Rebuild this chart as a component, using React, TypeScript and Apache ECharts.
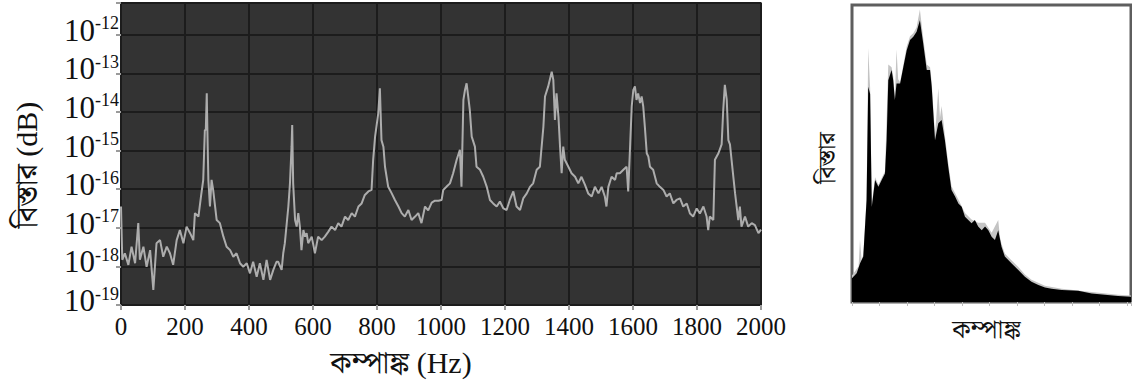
import React, { useEffect, useRef } from "react";
import * as echarts from "echarts";

// Left chart: x ticks (Hz) and y ticks (decimal exponents of amplitude)
const xTicks = [0, 200, 400, 600, 800, 1000, 1200, 1400, 1600, 1800, 2000];
const yExponents = [-19, -18, -17, -16, -15, -14, -13, -12];
const yTopExponent = -11.18;

// Spectrum: [frequency Hz, log10 amplitude]
const spectrum: [number, number][] = [
  [0, -16.45], [4, -17.83], [12, -17.66], [23, -17.96], [33, -17.49], [44, -17.92], [54, -16.88], [59, -17.83],
  [70, -17.49], [80, -18.01], [91, -17.58], [101, -18.61], [111, -17.4], [122, -17.32], [132, -17.75], [143, -17.49],
  [153, -17.66], [163, -17.96], [174, -17.32], [184, -17.06], [195, -17.4], [205, -16.97], [216, -17.14], [226, -17.32],
  [231, -16.62], [242, -16.71], [250, -16.19], [257, -15.76], [262, -14.47], [265, -14.47], [268, -13.52], [270, -14.5],
  [273, -15.76], [278, -16.45], [283, -15.76], [288, -16.02], [299, -16.8], [309, -16.88], [320, -17.23], [330, -17.49],
  [341, -17.58], [351, -17.75], [361, -17.66], [372, -17.92], [382, -18.01], [393, -17.92], [403, -18.18], [413, -17.88],
  [424, -18.27], [434, -17.92], [445, -18.35], [455, -17.83], [466, -18.35], [476, -18.09], [486, -17.88],
  [491, -17.88], [502, -18.09], [507, -17.66], [512, -17.4], [523, -16.45], [528, -15.85], [533, -14.9], [535, -14.34],
  [538, -15.85], [544, -16.8], [549, -16.97], [554, -16.62], [559, -16.97], [564, -17.58], [570, -17.06], [575, -17.23],
  [580, -17.14], [585, -17.4], [596, -17.23], [606, -17.66], [616, -17.23], [627, -17.32], [637, -17.23], [648, -17.1],
  [658, -16.97], [669, -17.06], [679, -16.88], [689, -16.97], [700, -16.71], [710, -16.8], [721, -16.62], [731, -16.71],
  [742, -16.45], [752, -16.37], [762, -16.15], [773, -16.06], [783, -16.02], [788, -15.24], [794, -14.64], [804, -14.03],
  [809, -13.39], [814, -14.73], [820, -14.9], [825, -15.42], [835, -15.94], [846, -16.11], [856, -16.28], [867, -16.45],
  [877, -16.62], [887, -16.71], [898, -16.54], [908, -16.8], [919, -16.71], [929, -16.62], [939, -16.88], [950, -16.45],
  [960, -16.55], [971, -16.35], [981, -16.3], [992, -16.3],
  [1002, -16.28], [1007, -16.02], [1017, -15.94], [1028, -15.85], [1038, -15.59], [1049, -15.24], [1059, -14.98],
  [1064, -15.94], [1070, -13.69], [1075, -13.43], [1080, -13.26], [1085, -13.6], [1090, -13.95], [1096, -14.64],
  [1106, -14.9], [1111, -15.42], [1122, -15.5], [1132, -15.68], [1143, -15.94], [1153, -16.28], [1163, -16.37],
  [1174, -16.45], [1184, -16.32], [1195, -16.5], [1205, -16.54], [1215, -16.28], [1226, -16.06], [1236, -16.45],
  [1247, -16.54], [1257, -16.24], [1268, -16.11], [1278, -15.94], [1288, -15.85], [1299, -15.5], [1309, -15.42],
  [1320, -14.38], [1325, -13.6], [1335, -13.34], [1346, -12.96], [1351, -13.17], [1356, -14.21], [1361, -13.52],
  [1367, -14.12], [1372, -14.9], [1377, -15.59], [1382, -14.9], [1387, -15.24], [1398, -15.42], [1408, -15.59],
  [1419, -15.68], [1429, -15.85], [1439, -15.68], [1450, -15.89], [1460, -16.11], [1471, -16.19], [1481, -15.94],
  [1492, -16.11],
  [1502, -15.94], [1512, -16.19], [1517, -16.45], [1523, -15.94], [1533, -15.68], [1544, -15.76], [1549, -15.59],
  [1559, -15.59], [1570, -15.5], [1580, -15.42], [1585, -16.06], [1590, -15.07], [1596, -13.86], [1601, -13.43],
  [1606, -13.34], [1611, -13.69], [1616, -13.52], [1622, -13.77], [1627, -13.6], [1632, -13.86], [1637, -14.38],
  [1643, -15.07], [1648, -15.16], [1653, -15.42], [1663, -15.5], [1674, -15.85], [1684, -15.94], [1695, -16.02],
  [1705, -16.19], [1715, -16.11], [1726, -16.37], [1736, -16.28], [1747, -16.24], [1757, -16.45], [1768, -16.37],
  [1778, -16.63], [1788, -16.71], [1799, -16.5], [1809, -16.63], [1820, -16.45], [1830, -16.71], [1835, -17.06],
  [1840, -16.71], [1851, -16.8], [1856, -15.24], [1867, -15.07], [1877, -14.84], [1882, -13.95], [1887, -13.3],
  [1893, -13.69], [1898, -14.73], [1903, -14.84], [1908, -15.24], [1919, -16.11], [1929, -16.8], [1934, -16.45],
  [1939, -16.97], [1950, -16.71], [1960, -16.97], [1971, -16.88], [1981, -16.93], [1992, -17.14], [2000, -17.05],
];

// Right chart: overlaid spectra, black body and grey fuzzy envelope [x units, % height]
const bodyBlack: [number, number][] = [
  [0, 8], [0.05, 8.5], [0.17, 9.7], [0.29, 13], [0.41, 15.3], [0.53, 34.3], [0.59, 72.5], [0.66, 70], [0.72, 32.1], [0.84, 41.1],
  [0.96, 38.8], [1.08, 41.1], [1.2, 43.3], [1.26, 54.5], [1.32, 74.7], [1.44, 78.1], [1.5, 74.7], [1.56, 68],
  [1.62, 73.6], [1.75, 73.6], [1.87, 79.2], [1.99, 84.8], [2.11, 88.2], [2.23, 89.3], [2.35, 91], [2.47, 94.9],
  [2.59, 87.1], [2.72, 78.1], [2.84, 78.1], [2.9, 72.5], [3.02, 54.5], [3.14, 60.2], [3.26, 61.3], [3.38, 54.5],
  [3.5, 45.6], [3.62, 37.7], [3.75, 35.5], [3.87, 33.2], [3.99, 32.1], [4.11, 28.7], [4.23, 27.6], [4.35, 26.5],
  [4.47, 27.6], [4.59, 25.4], [4.72, 24.2], [4.84, 25.4], [4.96, 24.2], [5.08, 22], [5.2, 20.9], [5.32, 24.2],
  [5.44, 18.6], [5.56, 15.3], [5.81, 13], [6.05, 10.8], [6.29, 8.5], [6.53, 6.8], [6.78, 5.7], [7.02, 4.9],
  [7.26, 4.5], [7.63, 4], [8.23, 3.8], [8.72, 2.9], [9.2, 2.4], [9.68, 2], [10.15, 1.8],
];
const bodyGrey: [number, number][] = [
  [0, 9], [0.05, 9.5], [0.24, 12], [0.29, 21], [0.35, 14], [0.41, 16], [0.53, 35], [0.59, 85.5], [0.66, 72], [0.72, 33], [0.84, 42],
  [0.96, 39.5], [1.2, 44], [1.32, 80], [1.44, 79], [1.5, 76], [1.56, 69], [1.62, 85], [1.68, 75], [1.75, 74], [1.87, 80], [1.99, 86],
  [2.11, 89.5], [2.23, 90.5], [2.35, 92.5], [2.47, 98.5], [2.59, 89], [2.72, 80], [2.84, 79], [2.9, 74], [3.02, 56], [3.14, 72],
  [3.2, 62], [3.26, 66], [3.38, 56], [3.5, 47], [3.62, 39], [3.87, 34.5], [4.11, 30], [4.35, 27.8], [4.59, 26.7], [4.84, 26.7],
  [5.08, 23.3], [5.32, 27.6], [5.38, 22], [5.44, 19.5], [5.56, 16.3], [5.81, 14], [6.05, 11.8], [6.29, 9.3], [6.53, 7.5], [7.02, 5.5],
  [7.63, 4.5], [8.72, 3.4], [9.68, 2.4], [10.15, 2.2],
];

const SERIF = "'Liberation Serif', 'Times New Roman', 'Noto Serif Bengali', 'Noto Sans Bengali', 'Lohit Bengali', 'FreeSerif', serif";

export default function App() {
  const ref = useRef<HTMLDivElement>(null);
  useEffect(() => {
    if (!ref.current) return;
    const chart = echarts.init(ref.current, undefined, { renderer: "svg" });
    const yStep = yExponents[1] - yExponents[0];
    const xStep = xTicks[1] - xTicks[0];
    chart.setOption({
      animation: false,
      grid: [
        { left: 121, top: 3, width: 640, height: 302, show: true, backgroundColor: "#333333", borderColor: "#8c8c8c", borderWidth: 2 },
        { left: 852, top: 5, width: 279, height: 297, show: true, backgroundColor: "#ffffff", borderColor: "#5e5e5e", borderWidth: 3 },
      ],
      xAxis: [
        {
          type: "value", gridIndex: 0, min: xTicks[0], max: xTicks[xTicks.length - 1], interval: xStep,
          axisLine: { show: false },
          axisTick: { show: true, length: 5, lineStyle: { color: "#9a9a9a", width: 2 } },
          axisLabel: { fontSize: 25, fontFamily: SERIF, color: "#111", margin: 9, formatter: (v: number) => String(v) },
          splitLine: { show: true, lineStyle: { color: "#1c1c1c", width: 2 } },
          name: "কম্পাঙ্ক (Hz)", nameLocation: "middle", nameGap: 42,
          nameTextStyle: { fontSize: 30, fontFamily: SERIF, color: "#111", padding: [0, 80, 0, 0] },
        },
        {
          type: "value", gridIndex: 1, min: 0, max: 10.15, interval: 1,
          axisLine: { show: false },
          axisTick: { show: true, length: 4, lineStyle: { color: "#bbbbbb", width: 1 } },
          axisLabel: { show: false },
          splitLine: { show: false },
          name: "কম্পাঙ্ক", nameLocation: "middle", nameGap: 14,
          nameTextStyle: { fontSize: 26, fontFamily: SERIF, color: "#111", padding: [0, 10, 0, 0] },
        },
      ],
      yAxis: [
        {
          type: "value", gridIndex: 0, min: yExponents[0], max: yTopExponent, interval: yStep,
          axisLine: { show: false },
          axisTick: { show: true, length: 5, lineStyle: { color: "#9a9a9a", width: 2 } },
          axisLabel: {
            margin: 2, color: "#111", padding: [0, 0, 9, 0],
            formatter: (v: number) => (Math.abs(v - Math.round(v)) < 1e-6 ? `{a|10}{b|${Math.round(v)}}` : ""),
            rich: {
              a: { fontSize: 31, fontFamily: SERIF, color: "#111", lineHeight: 32 },
              b: { fontSize: 18, fontFamily: SERIF, color: "#111", verticalAlign: "top", lineHeight: 18 },
            },
          },
          splitLine: { show: true, lineStyle: { color: "#1c1c1c", width: 2 } },
          name: "বিস্তার (dB)", nameLocation: "middle", nameGap: 80,
          nameTextStyle: { fontSize: 30, fontFamily: SERIF, color: "#111", padding: [0, 22, 0, 0] },
        },
        {
          type: "value", gridIndex: 1, min: 0, max: 100,
          axisLine: { show: false }, axisTick: { show: false }, axisLabel: { show: false }, splitLine: { show: false },
          name: "বিস্তার", nameLocation: "middle", nameGap: 13,
          nameTextStyle: { fontSize: 24, fontFamily: SERIF, color: "#111", padding: [0, 9, 0, 0] },
        },
      ],
      series: [
        {
          type: "line", xAxisIndex: 0, yAxisIndex: 0, data: spectrum, symbol: "none", showSymbol: false,
          lineStyle: { color: "#adadad", width: 2 }, silent: true,
        },
        {
          type: "line", xAxisIndex: 1, yAxisIndex: 1, data: bodyGrey, symbol: "none", showSymbol: false,
          lineStyle: { width: 0, color: "#c4c4c4" }, areaStyle: { color: "#c4c4c4", opacity: 1 }, silent: true,
        },
        {
          type: "line", xAxisIndex: 1, yAxisIndex: 1, data: bodyBlack, symbol: "none", showSymbol: false,
          lineStyle: { width: 0, color: "#000" }, areaStyle: { color: "#000", opacity: 1 }, silent: true,
        },
      ],
    });
    return () => chart.dispose();
  }, []);
  return <div ref={ref} style={{ position: "fixed", left: 0, top: 0, width: 1132, height: 388, background: "#fff" }} />;
}
